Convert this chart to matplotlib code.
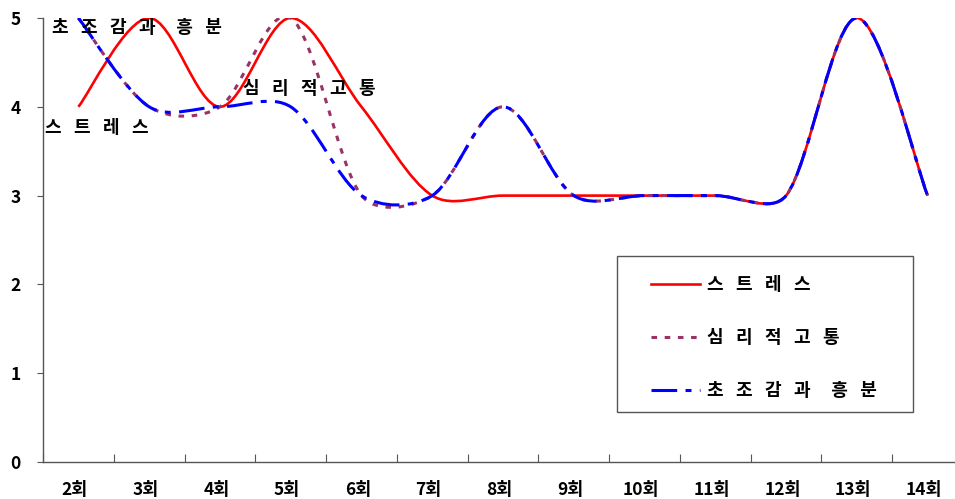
"""Smoothed line chart of three session scores (Excel-style curves)."""

import matplotlib
matplotlib.use('Agg')
import matplotlib.pyplot as plt
from matplotlib.path import Path
from matplotlib.patches import PathPatch, Rectangle
from matplotlib.lines import Line2D
from matplotlib.ticker import FixedLocator, NullFormatter, FixedFormatter

import numpy as np

plt.rcParams['font.family'] = ['Noto Sans CJK KR', 'DejaVu Sans']
plt.rcParams['font.weight'] = 'bold'
plt.rcParams['lines.scale_dashes'] = False

sessions = ['2회', '3회', '4회', '5회', '6회', '7회', '8회',
            '9회', '10회', '11회', '12회', '13회', '14회']
stress = [4, 5, 4, 5, 4, 3, 3, 3, 3, 3, 3, 5, 3]
distress = [5, 4, 4, 5, 3, 3, 4, 3, 3, 3, 3, 5, 3]
agitation = [5, 4, 4, 4, 3, 3, 4, 3, 3, 3, 3, 5, 3]

names = ['스트레스', '심리적고통', '초조감과 흥분']
colors = ['#ff0000', '#993366', '#0000ff']
styles = ['-', (0, (4.0, 5.5)), (0, (18.5, 6.0, 4.3, 6.0))]
widths = [1.9, 2.2, 2.2]


def spaced(s):
    """Spread out the hangul letters the way the original chart does."""
    return '     '.join('   '.join(w) for w in s.split(' '))


def smooth_path(ax, ys):
    """Bezier through the points, smoothed the way Excel does it:
    Catmull-Rom tangents (1/6), capped relative to the segment length,
    worked out in screen pixels."""
    pts = ax.transData.transform(
        np.column_stack([np.arange(len(ys)), ys]).astype(float))
    n = len(pts)
    verts = [pts[0]]
    codes = [Path.MOVETO]
    for i in range(n - 1):
        p0 = pts[max(i - 1, 0)]
        p1 = pts[i]
        p2 = pts[i + 1]
        p3 = pts[min(i + 2, n - 1)]
        d12 = np.hypot(*(p2 - p1))
        d02 = np.hypot(*(p2 - p0))
        d13 = np.hypot(*(p3 - p1))
        f0 = min(1 / 6, d12 / (3 * d02)) if d02 > 0 else 0
        f1 = min(1 / 6, d12 / (3 * d13)) if d13 > 0 else 0
        verts += [p1 + (p2 - p0) * f0, p2 - (p3 - p1) * f1, p2]
        codes += [Path.CURVE4] * 3
    verts = ax.transData.inverted().transform(np.array(verts))
    return Path(verts, codes)


fig = plt.figure(figsize=(9.55, 4.99), dpi=100)
ax = fig.add_axes([43 / 955, 37 / 499, 920 / 955, 444 / 499])
ax.set_xlim(-0.5, len(sessions) - 0.5)
ax.set_ylim(0, 5)

series = [stress, distress, agitation]
handles = []
for ys, color, ls, lw in zip(series, colors, styles, widths):
    patch = PathPatch(smooth_path(ax, ys), facecolor='none', edgecolor=color,
                      linestyle=ls, linewidth=lw, capstyle='butt')
    ax.add_patch(patch)
    handles.append(Line2D([], [], color=color, linestyle=ls, linewidth=lw,
                          dash_capstyle='butt'))

for s in ['top', 'right']:
    ax.spines[s].set_visible(False)
for s in ['left', 'bottom']:
    ax.spines[s].set_color('#555555')
    ax.spines[s].set_linewidth(1.0)

# category labels between the boundary ticks
ax.xaxis.set_major_locator(FixedLocator(np.arange(len(sessions) + 1) - 0.5))
ax.xaxis.set_major_formatter(NullFormatter())
ax.xaxis.set_minor_locator(FixedLocator(np.arange(len(sessions)) - 0.05))
ax.xaxis.set_minor_formatter(FixedFormatter(sessions))
ax.tick_params(axis='x', which='major', direction='in', length=6,
               color='#555555')
ax.tick_params(axis='x', which='minor', length=0, pad=14, labelsize=12.5)
ax.set_yticks(range(6))
ax.tick_params(axis='y', direction='out', length=4, pad=12, labelsize=12.5,
               color='#555555')

# labels written into the plot area
ax.text(-0.37, 4.89, spaced(names[2]), fontsize=13, ha='left', va='center')
ax.text(-0.47, 3.77, spaced(names[0]), fontsize=13, ha='left', va='center')
ax.text(2.32, 4.21, spaced(names[1]), fontsize=13, ha='left', va='center')

leg = fig.legend(handles, [spaced(n) for n in names], loc='upper left',
                 bbox_to_anchor=(651 / 955, (499 - 275) / 499),
                 frameon=False, fontsize=13, borderpad=0, borderaxespad=0,
                 handlelength=2.7, handletextpad=0.4, labelspacing=1.88)
fig.add_artist(Rectangle((617 / 955, 87 / 499), 296 / 955, 156 / 499,
                         transform=fig.transFigure, facecolor='none',
                         edgecolor='#555555', linewidth=1.0))

fig.savefig('out.png', dpi=100)
